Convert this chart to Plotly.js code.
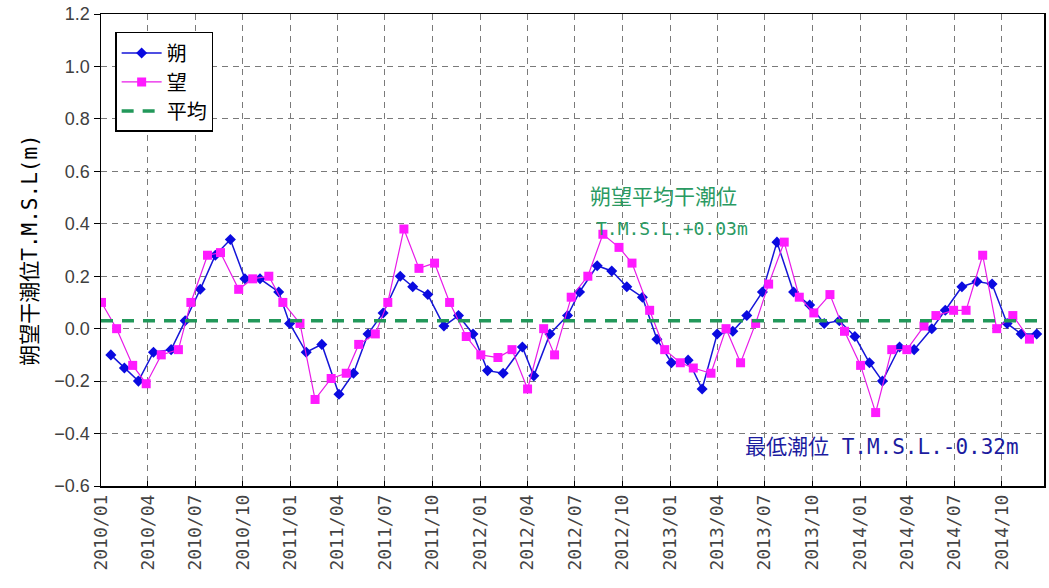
<!DOCTYPE html>
<html>
<head>
<meta charset="utf-8">
<script src="https://cdn.plot.ly/plotly-3.0.1.min.js"></script>
<style>html,body{margin:0;padding:0;background:#fff;}#chart{width:1049px;height:588px;}</style>
</head>
<body>
<div id="chart"></div>
<script>
// 朔 (new moon) low-water dates and levels (m, T.M.S.L.)
const sakuDates = ["2010-01-20","2010-02-15","2010-03-14","2010-04-12","2010-05-16","2010-06-12","2010-07-11","2010-08-09","2010-09-07","2010-10-05","2010-11-03","2010-12-09","2010-12-30",
"2011-01-31","2011-03-02","2011-04-04","2011-05-02","2011-05-30","2011-06-28","2011-07-31","2011-08-24","2011-09-22","2011-10-23","2011-11-20","2011-12-18",
"2012-01-15","2012-02-14","2012-03-22","2012-04-13","2012-05-14","2012-06-17","2012-07-10","2012-08-13","2012-09-10","2012-10-09","2012-11-08","2012-12-06",
"2013-01-03","2013-02-04","2013-03-03","2013-04-01","2013-05-01","2013-05-28","2013-06-27","2013-07-25","2013-08-26","2013-09-26","2013-10-24","2013-11-22","2013-12-22",
"2014-01-19","2014-02-13","2014-03-18","2014-04-15","2014-05-19","2014-06-14","2014-07-16","2014-08-14","2014-09-12","2014-10-11","2014-11-07","2014-12-07"];
const sakuLevels = [-0.10,-0.15,-0.20,-0.09,-0.08,0.03,0.15,0.28,0.34,0.19,0.19,0.14,0.02,
-0.09,-0.06,-0.25,-0.17,-0.02,0.06,0.20,0.16,0.13,0.01,0.05,-0.02,
-0.16,-0.17,-0.07,-0.18,-0.02,0.05,0.14,0.24,0.22,0.16,0.12,-0.04,
-0.13,-0.12,-0.23,-0.02,-0.01,0.05,0.14,0.33,0.14,0.09,0.02,0.03,-0.03,
-0.13,-0.20,-0.07,-0.08,0.00,0.07,0.16,0.18,0.17,0.02,-0.02,-0.02];

// 望 (full moon) low-water dates and levels
const boDates = ["2010-01-02","2010-01-31","2010-03-03","2010-03-29","2010-04-27","2010-05-30","2010-06-23","2010-07-25","2010-08-19","2010-09-23","2010-10-20","2010-11-20","2010-12-17",
"2011-01-19","2011-02-17","2011-03-20","2011-04-18","2011-05-12","2011-06-13","2011-07-07","2011-08-07","2011-09-05","2011-10-05","2011-11-03","2011-12-05",
"2012-01-02","2012-02-04","2012-03-02","2012-04-01","2012-05-02","2012-05-23","2012-06-24","2012-07-26","2012-08-24","2012-09-24","2012-10-19","2012-11-22","2012-12-21",
"2013-01-20","2013-02-14","2013-03-20","2013-04-18","2013-05-16","2013-06-14","2013-07-09","2013-08-08","2013-09-06","2013-10-04","2013-11-04","2013-12-02",
"2014-01-02","2014-01-31","2014-03-03","2014-04-01","2014-05-04","2014-05-27","2014-06-30","2014-07-24","2014-08-25","2014-09-21","2014-10-22","2014-11-23"];
const boLevels = [0.10,0.00,-0.14,-0.21,-0.10,-0.08,0.10,0.28,0.29,0.15,0.19,0.20,0.10,
0.02,-0.27,-0.19,-0.17,-0.06,-0.02,0.10,0.38,0.23,0.25,0.10,-0.03,
-0.10,-0.11,-0.08,-0.23,0.00,-0.10,0.12,0.20,0.36,0.31,0.25,0.07,-0.08,
-0.13,-0.15,-0.17,0.00,-0.13,0.02,0.17,0.33,0.12,0.06,0.13,-0.01,
-0.14,-0.32,-0.08,-0.08,0.01,0.05,0.07,0.07,0.28,0.00,0.05,-0.04];

// 平均 (mean syzygy low water) level
const meanLevel = 0.03;
const axisRange = ["2010-01-01","2014-12-21"];
const yRange = [-0.6, 1.2];

const seriesNames = ["朔","望","平均"];
const yTitle = "朔望干潮位T.M.S.L(m)";
const noteMean1 = "朔望平均干潮位";
const noteMean2 = "T.M.S.L.+0.03m";
const noteLow = "最低潮位 T.M.S.L.-0.32m";

const cjk = "'Noto Sans CJK JP', sans-serif";
const monoCjk = "'DejaVu Sans Mono', 'Noto Sans CJK JP', monospace";

const traces = [
  {x: sakuDates, y: sakuLevels, name: seriesNames[0], type: 'scatter', mode: 'lines+markers',
   legendgroup: 'a',
   line: {color: '#1515d8', width: 1.5},
   marker: {symbol: 'diamond', size: 8.5, color: '#0a0ae0'}},
  {x: boDates, y: boLevels, name: seriesNames[1], type: 'scatter', mode: 'lines+markers',
   legendgroup: 'b',
   line: {color: '#e81be8', width: 1.2},
   marker: {symbol: 'square', size: 9, color: '#ff1aff'}},
  {x: axisRange, y: [meanLevel, meanLevel], name: seriesNames[2], type: 'scatter', mode: 'lines',
   legendgroup: 'c', hoverinfo: 'skip',
   line: {color: '#22985a', width: 3.5, dash: '12px,9px'}}
];

const layout = {
  width: 1049, height: 588,
  margin: {l: 101, r: 5, t: 14, b: 102},
  paper_bgcolor: '#ffffff', plot_bgcolor: '#ffffff',
  showlegend: true,
  legend: {x: 0.015, y: 0.962, xanchor: 'left', yanchor: 'top',
    bgcolor: '#ffffff', bordercolor: '#000000', borderwidth: 1.5,
    font: {family: cjk, size: 20, color: '#000'},
    traceorder: 'grouped', tracegroupgap: 0, itemwidth: 40},
  xaxis: {
    type: 'date', range: axisRange, tick0: '2010-01-01', dtick: 'M3', tickformat: '%Y/%m',
    tickangle: -90, ticks: 'inside', ticklen: 5, tickcolor: '#000',
    tickfont: {family: "'DejaVu Sans Mono', monospace", size: 18, color: '#444'},
    showgrid: true, gridcolor: '#7a7a7a', griddash: '6px,5px', gridwidth: 1,
    showline: true, linecolor: '#000', linewidth: 1.5, mirror: true, zeroline: false
  },
  yaxis: {
    range: yRange, dtick: 0.2, tick0: 0, tickformat: '.1f',
    ticks: 'outside', ticklen: 6, tickcolor: '#000',
    tickfont: {family: "'Liberation Sans', Arial, sans-serif", size: 18, color: '#404040'},
    showgrid: true, gridcolor: '#7a7a7a', griddash: '6px,5px', gridwidth: 1,
    showline: true, linecolor: '#000', linewidth: 1.5, mirror: true, zeroline: false,
    title: {text: yTitle, font: {family: monoCjk, size: 21, color: '#000'}, standoff: 11}
  },
  annotations: [
    {xref: 'paper', yref: 'paper', x: (663 - 101) / 943, y: 1 - (195 - 14) / 472,
     text: noteMean1, showarrow: false, xanchor: 'center', yanchor: 'middle',
     font: {family: cjk, size: 21, color: '#2a9a62'}},
    {xref: 'paper', yref: 'paper', x: (672 - 101) / 943, y: 1 - (228 - 14) / 472,
     text: noteMean2, showarrow: false, xanchor: 'center', yanchor: 'middle',
     font: {family: "'DejaVu Sans Mono', monospace", size: 18, color: '#2a9a62'}},
    {xref: 'paper', yref: 'paper', x: (882 - 101) / 943, y: 1 - (447 - 14) / 472,
     text: noteLow, showarrow: false, xanchor: 'center', yanchor: 'middle',
     font: {family: monoCjk, size: 21, color: '#1c1ca0'}}
  ]
};

Plotly.newPlot('chart', traces, layout, {displayModeBar: false, staticPlot: true});
</script>
</body>
</html>
